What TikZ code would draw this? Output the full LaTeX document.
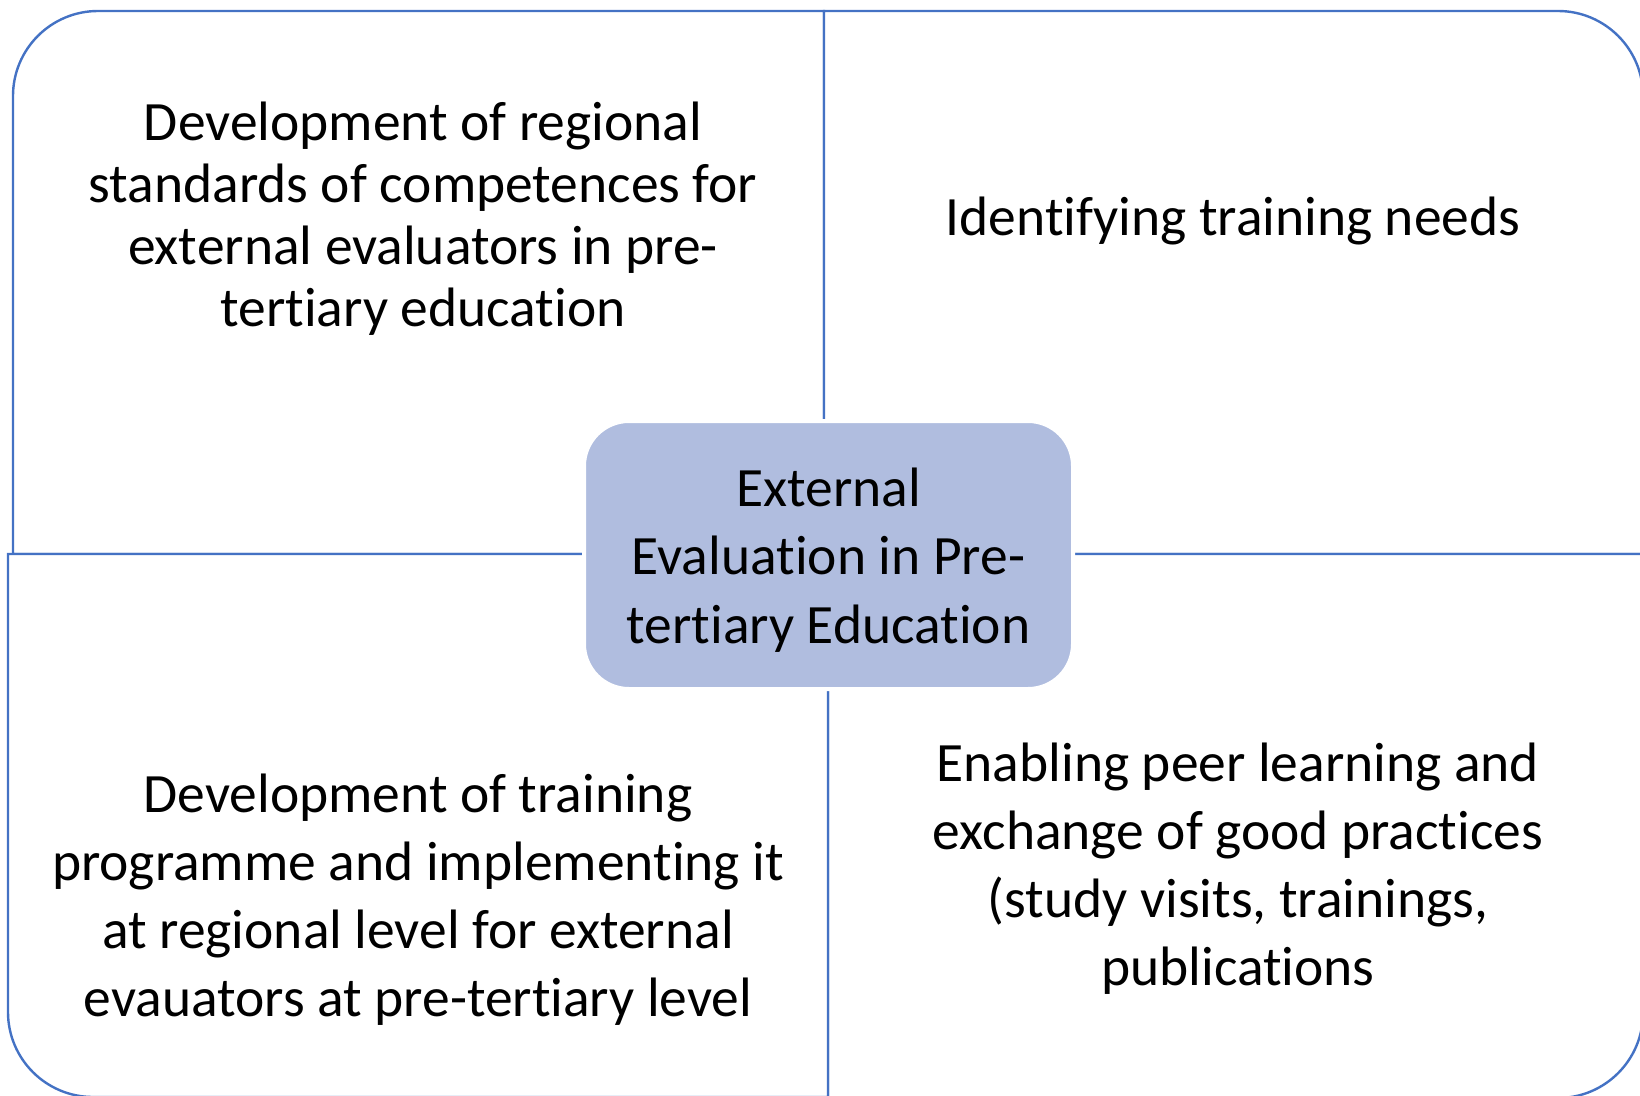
\documentclass[tikz,border=0pt]{standalone}
\usepackage{fontspec}
\setmainfont{Carlito}[RawFeature={-liga;-clig;-dlig;-calt;-rlig;-hlig;-ccmp}]
\definecolor{edgeblue}{RGB}{68,114,196}
\definecolor{boxblue}{RGB}{176,189,223}
\begin{document}
\begin{tikzpicture}[x=1pt,y=-1pt,
  quad/.style={draw=edgeblue, line width=2.4pt, fill=white, line join=miter},
  qtext/.style={align=center, inner sep=0pt, font=\fontsize{55.5}{68}\selectfont},
  qtight/.style={align=center, inner sep=0pt, font=\fontsize{55.5}{62}\selectfont},
  centerbox/.style={fill=boxblue, draw=white, line width=4pt, rounded corners=45pt,
    minimum width=489pt, minimum height=268pt, align=center, inner sep=0pt,
    font=\fontsize{55.5}{68.5}\selectfont}]
\useasboundingbox (0,0) rectangle (1640,1095);
% quadrants
\draw[quad] (13,554) -- (13,96) arc[start angle=180,end angle=90,radius=85pt] -- (824,11) -- (824,554) -- cycle;
\draw[quad] (824,554) -- (824,11) -- (1558,11) arc[start angle=90,end angle=0,radius=85pt] -- (1643,554) -- cycle;
\draw[quad] (828,554) -- (1643,554) -- (1643,1013) arc[start angle=0,end angle=-90,radius=85pt] -- (828,1098) -- cycle;
\draw[quad] (828,554) -- (828,1097) -- (93,1097) arc[start angle=270,end angle=180,radius=85pt] -- (8,1012) -- (8,554) -- cycle;
% texts
\node[qtight] (tl) at (423,219) {Development of regional\\standards of competences for\\external evaluators in pre-\\tertiary education};
\node[qtight] (tr) at (1233,221) {Identifying training needs};
\node[qtext] (bl) at (418,900) {Development of training\\programme and implementing it\\at regional level for external\\evauators at pre-tertiary level};
\node[qtext] (br) at (1238,869) {Enabling peer learning and\\exchange of good practices\\(study visits, trainings,\\publications};
% center
\node[centerbox] (c) at (828.5,555) {\raisebox{0pt}[\dimexpr\height+10pt\relax]{\parbox{480pt}{\centering External\\Evaluation in Pre-\\tertiary Education}}};
\end{tikzpicture}
\end{document}
